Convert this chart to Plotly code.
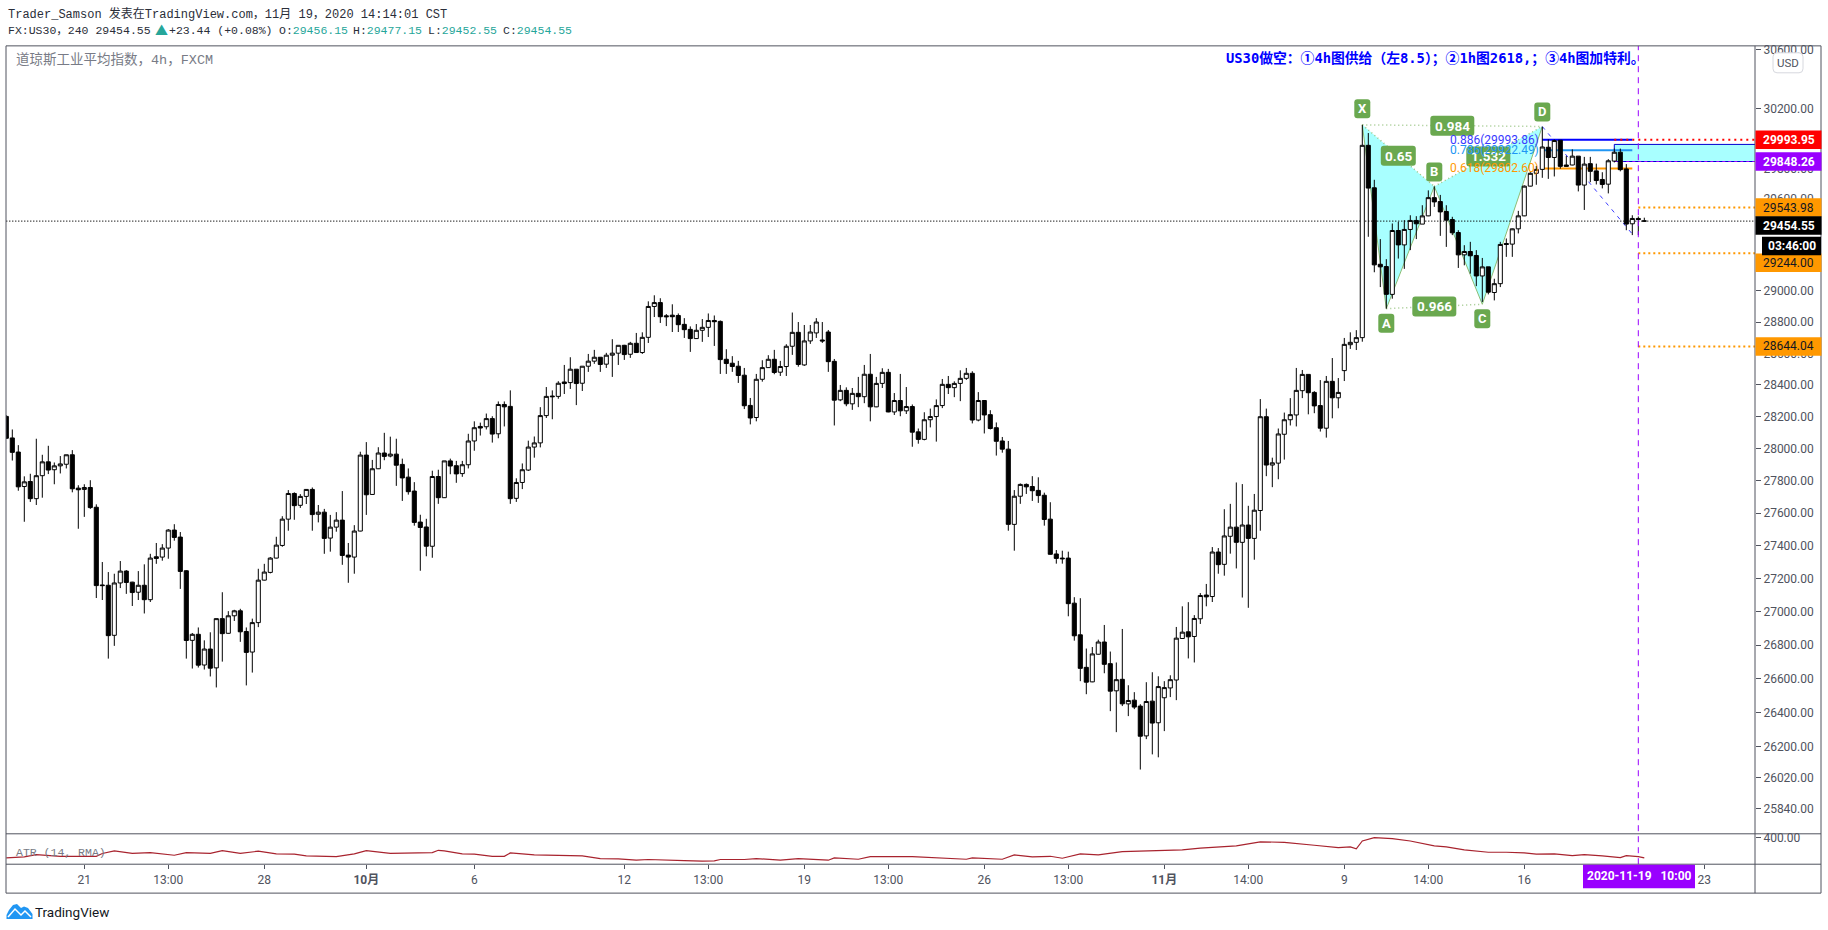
import math
import plotly.graph_objects as go

# 4h candles for FX:US30, oldest first
opens = [
    28201,28066,27978,27764,27795,27689,27831,27917,27868,27892,
    27902,27961,27754,27746,27758,27636,27162,27160,26859,27174,
    27246,27179,27118,27160,27073,27333,27331,27386,27496,27453,
    27248,26829,26865,26682,26777,26665,26959,26871,26976,27006,
    26882,26759,26935,27191,27238,27325,27402,27563,27721,27648,
    27703,27746,27593,27606,27447,27514,27557,27343,27331,27490,
    27959,27715,27874,27972,27953,27965,27901,27822,27736,27545,
    27515,27397,27826,27695,27923,27893,27844,27899,28047,28138,
    28136,28187,28092,28276,28264,27691,27789,27866,28009,28035,
    28206,28329,28327,28418,28414,28499,28410,28518,28550,28575,
    28531,28588,28601,28651,28594,28664,28605,28702,28900,28925,
    28840,28844,28842,28785,28753,28694,28747,28766,28810,28804,
    28562,28537,28518,28461,28270,28194,28435,28509,28562,28480,
    28516,28645,28734,28526,28679,28730,28685,28736,28549,28305,
    28365,28280,28346,28325,28467,28261,28409,28479,28229,28301,
    28236,28263,28104,28057,28180,28200,28269,28403,28382,28409,
    28441,28473,28178,28301,28212,28130,28047,27996,27531,27704,
    27777,27764,27740,27710,27563,27350,27325,27325,27052,26862,
    26668,26582,26746,26819,26690,26529,26597,26452,26474,26439,
    26264,26468,26341,26488,26546,26593,26840,26880,26852,26958,
    27101,27092,27362,27287,27458,27514,27421,27527,27445,27616,
    28199,27897,27909,28089,28180,28210,28363,28466,28352,28269,
    28127,28422,28318,28490,28655,28670,28700,29956,29674,29173,
    29158,28978,29393,29299,29400,29459,29435,29489,29609,29583,
    29518,29465,29380,29234,29256,29230,29097,29156,28990,29047,
    29308,29304,29404,29489,29685,29770,29796,29943,29875,29990,
    29825,29825,29884,29692,29834,29786,29729,29698,29851,29910,
    29799,29437,29472,29456.15,
]
highs = [
    28208,28119,28021,27827,27843,28061,27961,28017,27913,27953,
    27961,27990,27772,27778,27803,27654,27301,27240,27230,27307,
    27252,27181,27246,27287,27351,27417,27410,27502,27532,27484,
    27252,26873,26906,26829,26877,26959,27118,27004,27012,27018,
    26906,26959,27260,27290,27331,27455,27581,27742,27728,27717,
    27748,27758,27650,27626,27589,27606,27736,27417,27526,27980,
    28040,27929,28008,28098,28074,28061,27937,27876,27791,27590,
    27565,27862,27868,27923,27937,27923,27923,28092,28170,28162,
    28219,28202,28295,28295,28365,27815,27907,28049,28075,28259,
    28386,28365,28423,28526,28575,28499,28518,28596,28622,28575,
    28603,28690,28651,28654,28673,28730,28734,28933,28972,28953,
    28851,28914,28855,28825,28772,28787,28819,28855,28842,28810,
    28626,28582,28552,28507,28317,28469,28556,28588,28622,28552,
    28658,28861,28800,28781,28781,28825,28800,28749,28564,28399,
    28384,28380,28450,28526,28596,28450,28505,28501,28348,28469,
    28386,28276,28125,28227,28250,28308,28437,28456,28422,28492,
    28507,28486,28354,28303,28240,28163,28072,28047,27742,27783,
    27783,27828,27821,27726,27667,27374,27370,27364,27088,27082,
    26780,26789,26833,26921,26762,26697,26897,26562,26521,26450,
    26580,26639,26615,26586,26621,26909,27033,27058,26980,27113,
    27168,27392,27386,27624,27657,27789,27779,27645,27718,28310,
    28250,27943,28125,28225,28316,28507,28494,28466,28360,28430,
    28456,28570,28443,28698,28734,28748,30093,30038,29727,29337,
    29206,29439,29450,29461,29493,29487,29559,29657,29683,29627,
    29559,29483,29395,29297,29319,29265,29214,29156,29079,29319,
    29341,29406,29522,29690,29777,29818,30080,29995,29995,29990,
    29886,29929,29884,29879,29879,29834,29777,29864,29934,29934,
    29831,29493,29485,29477.15,
]
lows = [
    28059,27925,27738,27547,27669,27650,27695,27841,27778,27845,
    27876,27728,27504,27577,27626,27083,27071,26720,26796,27143,
    27108,27035,27071,26990,27059,27290,27309,27321,27431,27138,
    26720,26661,26667,26655,26614,26549,26702,26869,26945,26820,
    26561,26637,26908,27189,27232,27323,27394,27492,27559,27632,
    27656,27492,27543,27351,27364,27486,27284,27175,27230,27488,
    27589,27713,27872,27927,27945,27768,27675,27714,27523,27248,
    27336,27327,27657,27693,27840,27787,27824,27876,27986,28081,
    28119,28037,28064,28138,27657,27669,27748,27860,27943,28007,
    28191,28183,28312,28342,28374,28272,28361,28482,28533,28482,
    28507,28450,28526,28558,28571,28603,28596,28666,28832,28794,
    28774,28736,28736,28698,28609,28692,28673,28704,28647,28469,
    28469,28482,28412,28247,28151,28170,28420,28507,28467,28456,
    28456,28590,28515,28520,28660,28698,28666,28482,28144,28297,
    28265,28242,28259,28284,28170,28259,28380,28227,28210,28202,
    28216,28011,28030,28051,28132,28043,28253,28342,28322,28297,
    28431,28157,28170,28094,28119,27956,27974,27492,27370,27657,
    27718,27675,27663,27523,27346,27291,27291,26973,26827,26586,
    26509,26580,26744,26633,26409,26286,26439,26380,26421,26068,
    26245,26156,26139,26292,26492,26474,26838,26721,26697,26927,
    27033,27059,27230,27218,27352,27262,27086,27024,27315,27492,
    27828,27760,27809,27931,28144,28138,28316,28214,28221,28106,
    28068,28189,28252,28424,28628,28621,28674,29352,29121,29025,
    28886,28950,29210,29143,29265,29337,29435,29487,29548,29358,
    29286,29363,29149,29166,29112,29031,28929,28978,28939,29025,
    29221,29221,29374,29487,29683,29694,29740,29733,29749,29801,
    29814,29823,29650,29528,29711,29696,29670,29637,29842,29783,
    29395,29363,29363,29452.55,
]
closes = [
    28064,27976,27762,27793,27689,27831,27917,27866,27892,27904,
    27961,27750,27744,27758,27634,27158,27158,26857,27174,27246,
    27177,27116,27160,27073,27325,27323,27386,27496,27451,27244,
    26828,26865,26681,26777,26663,26959,26869,26976,27006,26880,
    26757,26935,27191,27240,27325,27404,27563,27721,27646,27703,
    27746,27591,27606,27445,27514,27557,27341,27331,27490,27959,
    27713,27874,27972,27951,27965,27896,27817,27732,27543,27512,
    27397,27826,27695,27923,27891,27842,27899,28047,28130,28128,
    28187,28090,28276,28261,27689,27789,27868,28009,28035,28206,
    28327,28325,28410,28408,28499,28408,28518,28550,28575,28529,
    28588,28601,28651,28592,28664,28605,28702,28900,28925,28834,
    28834,28834,28783,28751,28694,28747,28766,28810,28802,28560,
    28535,28516,28459,28268,28191,28435,28509,28562,28478,28516,
    28645,28734,28529,28679,28736,28800,28679,28547,28303,28365,
    28280,28346,28325,28467,28261,28409,28479,28229,28301,28236,
    28263,28102,28057,28180,28200,28269,28403,28382,28409,28441,
    28473,28178,28301,28210,28125,28045,27996,27531,27704,27777,
    27762,27738,27708,27561,27348,27323,27321,27049,26856,26662,
    26580,26748,26819,26686,26527,26595,26452,26472,26433,26262,
    26466,26339,26554,26548,26595,26842,26878,26850,26960,27098,
    27090,27362,27285,27460,27514,27421,27527,27445,27618,28199,
    27897,27911,28091,28180,28212,28365,28466,28350,28267,28127,
    28422,28318,28352,28657,28670,28700,29956,29672,29169,29156,
    28978,29393,29299,29400,29459,29437,29489,29609,29581,29515,
    29461,29378,29234,29256,29228,29097,29156,28992,29047,29302,
    29302,29404,29489,29685,29770,29796,29945,29875,29988,29816,
    29816,29884,29692,29831,29783,29722,29696,29853,29910,29794,
    29435,29472,29465,29454.55,
]
assert len(opens) == len(highs) == len(lows) == len(closes)
bar_index = list(range(len(opens)))

# ATR(14) readings, bar index and value
atr_index = [0,3,5,9,15,16,18,21,24,28,30,34,36,39,42,45,48,50,55,58,60,64,71,72,73,76,78,81,83,84,88,91,96,
             99,102,105,107,113,116,118,119,123,125,129,132,137,138,142,144,151,155,160,161,166,168,171,174,176,179,182,186,
             192,196,199,205,209,213,218,222,
             224,225,226,228,231,234,238,240,243,247,250,253,255,258,261,263,266,269,270,272,273]
atr_value = [225,234,254,239,239,263,286,265,271,248,271,265,288,265,283,260,257,242,236,260,288,265,271,291,286,260,257,239,239,268,251,248,242,
             219,216,205,211,202,196,199,211,211,219,205,219,205,225,213,236,236,225,213,225,213,251,234,239,222,260,251,280,
             290,295,310,330,365,360,335,315,
             320,303,372,401,393,372,329,320,294,274,274,268,257,260,245,254,242,228,245,236,225]

# Price axis and time axis labels
price_ticks = [30600,30200,30000,29800,29600,29400,29200,29000,28800,28600,28400,28200,28000,27800,27600,27400,27200,27000,26800,26600,26400,26200,26020,25840]
atr_ticks = [400]
time_tick_index = [13,27,43,60,78,103,117,133,147,163,177,193,207,223,237,253,283]
time_tick_labels = ["21","13:00","28","<b>10月</b>","6","12","13:00","19","13:00","26","13:00","<b>11月</b>","14:00","9","14:00","16","23"]

# XABCD harmonic pattern: bar index and price of each pivot
pattern_names = ["X","A","B","C","D"]
pattern_index = [226,230,238,246,256]
pattern_price = [30093,28886,29683,28914,30082]
ratio_labels = ["0.65","0.984","1.532","0.966"]
ratio_legs = [("X","B"),("X","D"),("B","D"),("A","C")]

# Fibonacci levels of the move into D
fib_labels = ["0.886(29993.86)","0.786(29922.49)","0.618(29802.60)"]
fib_prices = [29993.86,29922.49,29802.60]
fib_colors = ["#0000ff","#2196f3","#ff9800"]
fib_text_colors = ["#3a3aff","#2196f3","#ff9800"]

# Trade plan levels
zone_top = 29962
zone_bottom = 29848.26
stop_price = 29993.95
target_prices = [29543.98,29244.00,28644.04]
last_price = 29454.55
projection_end_price = 29370
projection_end_index = 271
cursor_index = 272

FONT_MONO = "'Liberation Mono','Noto Sans CJK SC',monospace"
FONT_NOTE = "'DejaVu Sans Mono','Noto Sans CJK SC',monospace"
FONT_AXIS = "Roboto,'Noto Sans CJK SC',sans-serif"
AXIS_GREY = "#50535e"
PILL_GREEN = "#6aa84f"
ZONE_FILL = "#a8ffff"
PURPLE = "#9900ff"
ORANGE = "#ff9800"
W, H = 1828, 930


def fx(px):
    return px / W


def fy(py):
    return 1 - py / H


pivot = {n: (i, p) for n, i, p in zip(pattern_names, pattern_index, pattern_price)}
shapes = []
notes = []


def data_line(i0, p0, i1, p1, color, width=1, dash="solid", layer="below"):
    shapes.append(dict(type="line", xref="x", yref="y", x0=i0, y0=p0, x1=i1, y1=p1,
                       line=dict(color=color, width=width, dash=dash), layer=layer))


def frame_line(x0, y0, x1, y1):
    shapes.append(dict(type="line", xref="paper", yref="paper", x0=fx(x0), y0=fy(y0), x1=fx(x1), y1=fy(y1),
                       line=dict(color=AXIS_GREY, width=1), layer="above"))


def round_box(xref, xpos, yref, ypos, dy, w, h, fill, r=0, line=None):
    hw, hh = w / 2, h / 2
    t, b = dy + hh, dy - hh
    if r:
        path = (f"M {-hw+r} {b} L {hw-r} {b} Q {hw} {b} {hw} {b+r} L {hw} {t-r} Q {hw} {t} {hw-r} {t} "
                f"L {-hw+r} {t} Q {-hw} {t} {-hw} {t-r} L {-hw} {b+r} Q {-hw} {b} {-hw+r} {b} Z")
    else:
        path = f"M {-hw} {b} L {hw} {b} L {hw} {t} L {-hw} {t} Z"
    shapes.append(dict(type="path", xref=xref, yref=yref, xsizemode="pixel", ysizemode="pixel",
                       xanchor=xpos, yanchor=ypos, path=path, fillcolor=fill,
                       line=dict(width=1 if line else 0, color=line or fill), layer="above"))


def label(x, y, text, size, color, xref="paper", yref="paper", family=FONT_AXIS, xanchor="center", yshift=0):
    notes.append(dict(x=x, y=y, xref=xref, yref=yref, text=text, showarrow=False, xanchor=xanchor,
                      yanchor="middle", yshift=yshift, font=dict(family=family, size=size, color=color),
                      borderpad=0))


# Pattern fill, two triangles under the candles
for a, b, c in (("X", "A", "B"), ("B", "C", "D")):
    pts = [pivot[a], pivot[b], pivot[c]]
    shapes.append(dict(type="path", xref="x", yref="y", layer="below", fillcolor=ZONE_FILL,
                       path="M " + " L ".join(f"{i} {p}" for i, p in pts) + " Z", line=dict(width=0)))
for a, b in (("X", "A"), ("A", "B"), ("B", "C"), ("C", "D")):
    data_line(*pivot[a], *pivot[b], "#8dbd75", 1)
for a, b in ratio_legs:
    data_line(*pivot[a], *pivot[b], "#9cc686", 1.5, "1px,3px")

# Supply zone that runs to the price axis
zone_start = 268
right_edge = 291.45
shapes.append(dict(type="rect", xref="x", yref="y", layer="below", x0=zone_start, x1=right_edge,
                   y0=zone_bottom, y1=zone_top, fillcolor=ZONE_FILL, line=dict(width=0)))
data_line(zone_start, zone_top, right_edge, zone_top, "#0000d0", 1)
data_line(zone_start, zone_top, zone_start, zone_bottom, "#0000d0", 1)
data_line(zone_start, zone_bottom, right_edge, zone_bottom, "#0000d0", 1)
data_line(zone_start, zone_bottom, right_edge, zone_bottom, PURPLE, 1, "3px,3px")

# Projection from D, last price line, fibonacci levels, stop and targets
data_line(*pivot["D"], projection_end_index, projection_end_price, "#3d3dff", 1, "4px,5px")
data_line(-1, last_price, right_edge, last_price, "#000000", 1.2, "1px,2px")
for price, color in zip(fib_prices, fib_colors):
    data_line(pivot["D"][0], price, projection_end_index, price, color, 2)
data_line(zone_start, stop_price, right_edge, stop_price, "#ff0000", 2, "2px,4px")
for price in target_prices:
    data_line(cursor_index, price, right_edge, price, ORANGE, 2, "2px,3px")

# Time cursor
shapes.append(dict(type="line", xref="x", yref="paper", x0=cursor_index, x1=cursor_index, y0=fy(864), y1=fy(43),
                   line=dict(color=PURPLE, width=1, dash="6px,5px"), layer="above"))

# Frame
frame_line(6, 43, 1821, 43)
frame_line(6, 43, 6, 893)
frame_line(6, 893, 1821, 893)
frame_line(1821, 43, 1821, 893)
frame_line(1755, 43, 1755, 893)
frame_line(6, 833.5, 1821, 833.5)
frame_line(6, 864, 1821, 864)

# Pattern pills
LETTER_OFFSET = {"X": 16, "A": -14.5, "B": 14.5, "C": -14.5, "D": 14.5}
for name, (i, p) in pivot.items():
    round_box("x", i, "y", p, LETTER_OFFSET[name], 16, 19, PILL_GREEN, r=3)
    notes.append(dict(x=i, y=math.log10(p), xref="x", yref="y", text=f"<b>{name}</b>", showarrow=False,
                      yanchor="middle", yshift=LETTER_OFFSET[name], font=dict(family=FONT_AXIS, size=13, color="#ffffff")))
for text, (a, b) in zip(ratio_labels, ratio_legs):
    i = (pivot[a][0] + pivot[b][0]) / 2
    p = math.sqrt(pivot[a][1] * pivot[b][1])
    round_box("x", i, "y", p, 0, 35 if len(text) == 4 else 44, 20, PILL_GREEN, r=3)
    label(i, math.log10(p), f"<b>{text}</b>", 13.5, "#ffffff", xref="x", yref="y")

# Fibonacci level captions
for text, price, color in zip(fib_labels, fib_prices, fib_text_colors):
    label(255.6, math.log10(price), text, 12, color, xref="x", yref="y", xanchor="right")

# Price tags on the axis
tag_x = fx(1788.5)
tags = [
    (stop_price, "29993.95", "#ff0000", "#ffffff", 0),
    (zone_bottom, "29848.26", PURPLE, "#ffffff", 0),
    (target_prices[0], "29543.98", ORANGE, "#131722", 0),
    (target_prices[1], "29244.00", ORANGE, "#131722", -9.5),
    (target_prices[2], "28644.04", ORANGE, "#131722", 0),
    (last_price, "29454.55", "#000000", "#ffffff", -4.5),
]
for price, text, fill, ink, dy in tags:
    round_box("paper", tag_x, "y", price, dy, 66, 18.5, fill)
    label(tag_x, math.log10(price), f"<b>{text}</b>" if ink == "#ffffff" else text, 12, ink, yref="y", yshift=dy)
round_box("paper", fx(1791.5), "y", last_price, -25, 59, 18.5, "#000000")
label(fx(1791.5), math.log10(last_price), "<b>03:46:00</b>", 12, "#ffffff", yref="y", yshift=-25)

# Cursor date on the time axis
shapes.append(dict(type="rect", xref="paper", yref="paper", x0=fx(1583), x1=fx(1695), y0=fy(888), y1=fy(864.5),
                   fillcolor=PURPLE, line=dict(width=0), layer="above"))
label(fx(1639), fy(876), "<b>2020-11-19   10:00</b>", 12, "#ffffff")

# Currency button
round_box("paper", fx(1788), "paper", fy(60), 0, 30, 20, "#ffffff", r=4, line="#d6d8de")
label(fx(1788), fy(60), "USD", 11.5, "#50535e")

# Header row, chart title and pane captions
TEAL = "#26a69a"
INK = "#2a2e39"
label(fx(7), fy(11.5), "Trader_Samson 发表在TradingView.com，11月 19，2020 14:14:01 CST", 12, INK,
      family=FONT_MONO, xanchor="left")
label(fx(7), fy(28), "FX:US30，240 29454.55", 11.5, INK, family=FONT_MONO, xanchor="left")
label(fx(154), fy(28), "▲", 13, TEAL, family=FONT_AXIS, xanchor="left")
label(fx(168), fy(28), "+23.44 (+0.08%)", 11.5, INK, family=FONT_MONO, xanchor="left")
for px, tag, value in ((278, "O", "29456.15"), (352, "H", "29477.15"), (427, "L", "29452.55"), (501.5, "C", "29454.55")):
    label(fx(px), fy(28), f"{tag}:<span style='color:{TEAL}'>{value}</span>", 11.5, INK, family=FONT_MONO, xanchor="left")
label(fx(15), fy(57.5), "道琼斯工业平均指数，4h，FXCM", 13.5, "#787b86", family=FONT_MONO, xanchor="left")
label(fx(1646), fy(55.5), "<b>US30做空：①4h图供给（左8.5）；②1h图2618,；③4h图加特利。</b>", 13.8, "#0000ff",
      family=FONT_NOTE, xanchor="right")
label(fx(15), fy(852), "ATR (14, RMA)", 11.5, "#787b86", family=FONT_MONO, xanchor="left")

# Wordmark with its cloud glyph
cloud = [(6.5, 919), (6.5, 915), (9, 910), (13, 905), (17, 904), (21, 908), (24, 906.5), (28, 908), (32.5, 914), (32.5, 919)]
shapes.append(dict(type="path", xref="paper", yref="paper", fillcolor="#2196f3", line=dict(width=0), layer="above",
                   path="M " + " L ".join(f"{fx(x)} {fy(y)}" for x, y in cloud) + " Z"))
ridge = [(8, 917), (15, 909), (21, 915), (25, 911), (31, 917)]
shapes.append(dict(type="path", xref="paper", yref="paper", line=dict(color="#ffffff", width=1.5), layer="above",
                   path="M " + " L ".join(f"{fx(x)} {fy(y)}" for x, y in ridge)))
label(fx(34), fy(912), "TradingView", 13.5, "#131722", xanchor="left")

fig = go.Figure()
fig.add_trace(go.Candlestick(
    x=bar_index, open=opens, high=highs, low=lows, close=closes, xaxis="x", yaxis="y",
    increasing=dict(line=dict(color="#000000", width=1), fillcolor="#ffffff"),
    decreasing=dict(line=dict(color="#000000", width=1), fillcolor="#000000"),
    whiskerwidth=0, hoverinfo="skip", showlegend=False,
))
fig.add_trace(go.Scatter(x=atr_index, y=atr_value, mode="lines", xaxis="x", yaxis="y2",
                         line=dict(color="#a8232e", width=1.2), hoverinfo="skip", showlegend=False))

price_labels = [f"{v:.2f}" for v in price_ticks]
fig.update_layout(
    width=W, height=H, autosize=False, margin=dict(l=0, r=0, t=0, b=0),
    paper_bgcolor="#ffffff", plot_bgcolor="#ffffff", showlegend=False, hovermode=False,
    font=dict(family=FONT_AXIS), boxgap=0.32, boxgroupgap=0,
    xaxis=dict(domain=[fx(6), fx(1755)], range=[-0.05, 291.45], anchor="y2", rangeslider=dict(visible=False),
               tickmode="array", tickvals=time_tick_index, ticktext=time_tick_labels, ticks="outside", ticklen=4,
               tickcolor=AXIS_GREY, tickfont=dict(family=FONT_AXIS, size=12, color=AXIS_GREY),
               showgrid=False, zeroline=False, showline=False),
    yaxis=dict(domain=[fy(834), fy(43)], type="log", range=[math.log10(25694.6), math.log10(30627)], side="right",
               anchor="x", tickmode="array", tickvals=price_ticks, ticktext=price_labels, ticks="outside", ticklen=5,
               tickcolor=AXIS_GREY, tickfont=dict(family=FONT_AXIS, size=12, color=AXIS_GREY),
               showgrid=False, zeroline=False, showline=False),
    yaxis2=dict(domain=[fy(864), fy(834)], range=[170, 430], side="right", anchor="x", tickmode="array",
                tickvals=atr_ticks, ticktext=["400.00"], ticks="outside", ticklen=5, tickcolor=AXIS_GREY,
                tickfont=dict(family=FONT_AXIS, size=12, color=AXIS_GREY),
                showgrid=False, zeroline=False, showline=False),
    shapes=shapes, annotations=notes,
)
fig.write_html("out.html", config=dict(displayModeBar=False))
